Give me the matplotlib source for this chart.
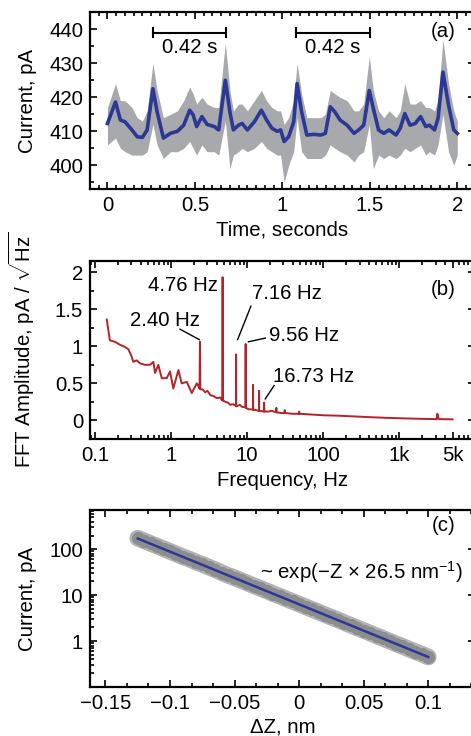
import numpy as np
import matplotlib.pyplot as plt
from matplotlib.ticker import MultipleLocator, AutoMinorLocator, LogLocator, FixedLocator, NullFormatter

plt.rcParams['font.family'] = ['Liberation Sans', 'DejaVu Sans']
plt.rcParams['mathtext.fontset'] = 'custom'
plt.rcParams['mathtext.rm'] = 'Liberation Sans'
plt.rcParams['mathtext.it'] = 'Liberation Sans:italic'
plt.rcParams['font.size'] = 14.7

# ---- panel (a): current trace ----
t_a = [0.00, 0.046, 0.074, 0.10, 0.14, 0.17, 0.20, 0.227, 0.26, 0.284, 0.32, 0.36, 0.40, 0.436,
       0.47, 0.49, 0.51, 0.54, 0.57, 0.61, 0.636, 0.674, 0.70, 0.72, 0.75, 0.77, 0.80, 0.84,
       0.88, 0.91, 0.94, 0.97, 0.99, 1.01, 1.036, 1.065, 1.084, 1.11, 1.14, 1.18, 1.22, 1.246,
       1.274, 1.30, 1.33, 1.37, 1.41, 1.436, 1.465, 1.497, 1.52, 1.55, 1.58, 1.61, 1.65, 1.674,
       1.70, 1.73, 1.76, 1.79, 1.82, 1.84, 1.87, 1.89, 1.918, 1.95, 1.98, 2.00]
smooth_a = [412.3, 418.6, 413.3, 412.8, 410.4, 408.4, 408.2, 410.4, 422.5, 415.7, 408.0, 409.4,
            410.0, 411.8, 416.2, 414.8, 411.4, 414.3, 412.0, 411.4, 410.4, 425.0, 415.7, 410.4,
            411.8, 412.3, 410.4, 412.8, 416.2, 413.3, 410.9, 410.0, 410.4, 407.0, 408.4, 412.8,
            424.0, 415.7, 408.9, 409.1, 408.9, 409.4, 417.2, 415.7, 413.3, 411.8, 409.4, 410.4,
            411.8, 422.0, 416.7, 410.4, 409.4, 410.4, 408.9, 410.9, 415.2, 411.8, 412.3, 414.3,
            411.4, 411.8, 410.4, 413.8, 427.4, 417.7, 410.4, 409.4]
raw_hi = [417, 424, 419, 419, 417, 414, 413, 416, 430, 422, 414, 415, 416, 419, 423, 421, 418,
          420, 418, 417, 417, 436, 422, 416, 418, 418, 416, 419, 422, 419, 417, 416, 416, 412,
          414, 419, 430, 421, 414, 414, 414, 415, 422, 421, 420, 419, 416, 416, 418, 432, 422,
          416, 414, 416, 414, 416, 424, 418, 418, 419, 417, 417, 416, 419, 437, 424, 416, 413]
raw_lo = [406, 408, 405, 404, 403, 403, 403, 404, 412, 406, 402, 404, 404, 405, 407, 405, 403,
          406, 404, 404, 403, 413, 399, 403, 404, 405, 404, 405, 407, 405, 404, 403, 403, 395,
          400, 404, 414, 404, 402, 402, 402, 403, 406, 405, 404, 403, 401, 403, 404, 412, 399,
          403, 402, 403, 402, 403, 405, 404, 405, 406, 403, 404, 403, 406, 415, 404, 400, 403]
periods = [(0.26, 0.68), (1.08, 1.50)]

# ---- panel (b): FFT spectrum ----
freq_b = [0.143, 0.157, 0.183, 0.213, 0.248, 0.275, 0.304, 0.319, 0.354, 0.391, 0.455, 0.53,
          0.586, 0.617, 0.68, 0.755, 0.878, 0.97, 1.07, 1.25, 1.38, 1.61, 1.87, 2.18, 2.33,
          2.37, 2.40, 2.43, 2.6, 2.8, 3.0, 3.3, 3.6, 4.0, 4.4, 4.7, 4.73, 4.76, 4.79, 5.2, 5.6,
          6.0, 6.5, 7.1, 7.13, 7.16, 7.19, 8.0, 8.7, 9.5, 9.53, 9.56, 9.59, 10.5, 11.9, 11.95,
          12.0, 13.0, 14.3, 14.35, 14.4, 16.6, 16.73, 16.85, 19, 21, 24, 24.2, 24.4, 28, 31,
          31.2, 31.4, 40, 48, 48.3, 48.6, 70, 100, 150, 250, 400, 700, 1000, 1500, 2000, 3000,
          3100, 3150, 3200, 3300, 4000, 5000]
amp_b = [1.36, 1.08, 1.06, 1.02, 0.99, 0.96, 0.86, 0.79, 0.81, 0.77, 0.75, 0.75,
         0.79, 0.64, 0.75, 0.57, 0.57, 0.66, 0.43, 0.68, 0.50, 0.52, 0.37, 0.50, 0.45,
         0.43, 1.06, 0.42, 0.42, 0.38, 0.40, 0.34, 0.33, 0.30, 0.31, 0.27, 0.27, 1.93, 0.27, 0.25, 0.24,
         0.21, 0.22, 0.20, 0.20, 0.89, 0.19, 0.21, 0.18, 0.18, 0.18, 1.03, 0.17, 0.15, 0.15, 0.48,
         0.14, 0.14, 0.13, 0.40, 0.13, 0.12, 0.24, 0.12, 0.12, 0.13, 0.11, 0.17, 0.11, 0.10, 0.10,
         0.14, 0.10, 0.09, 0.09, 0.12, 0.09, 0.08, 0.07, 0.065, 0.055, 0.045, 0.035, 0.03, 0.025, 0.022, 0.018,
         0.018, 0.09, 0.08, 0.018, 0.017, 0.015]
# peak labels: text, anchor (f, amp), alignment, leader start, leader end
peak_labels = [("2.40 Hz", (0.289, 1.35), 'left', (1.31, 1.23), (2.35, 1.09)),
               ("4.76 Hz", (4.2, 1.82), 'right', None, None),
               ("7.16 Hz", (11.5, 1.71), 'left', (11.2, 1.54), (7.5, 1.09)),
               ("9.56 Hz", (19.1, 1.15), 'left', (10.4, 1.06), (17.3, 1.11)),
               ("16.73 Hz", (22.2, 0.59), 'left', (17.3, 0.29), (22.6, 0.47))]

# ---- panel (c): current vs distance ----
dz_c = [-0.125, -0.12, -0.115, -0.11, -0.105, -0.10, -0.095, -0.09, -0.085, -0.08, -0.075,
        -0.07, -0.065, -0.06, -0.055, -0.05, -0.045, -0.04, -0.035, -0.03, -0.025, -0.02,
        -0.015, -0.01, -0.005, 0.0, 0.005, 0.01, 0.015, 0.02, 0.025, 0.03, 0.035, 0.04,
        0.045, 0.05, 0.055, 0.06, 0.065, 0.07, 0.075, 0.08, 0.085, 0.09, 0.095, 0.10]
cur_c = [175, 153, 134, 118, 103, 90, 79, 69, 61, 53, 47, 41, 36, 31, 27, 24, 21, 18.4, 16.1,
         14.1, 12.4, 10.8, 9.5, 8.3, 7.3, 6.4, 5.6, 4.9, 4.3, 3.76, 3.3, 2.9, 2.53, 2.21, 1.94,
         1.70, 1.49, 1.30, 1.14, 1.0, 0.875, 0.77, 0.67, 0.59, 0.52, 0.45]
fit_z = [-0.125, 0.10]
fit_i = [172, 0.45]

gray = '#a7a9ac'
blue = '#2b3896'
red = '#b5232a'

fig = plt.figure(figsize=(4.71, 7.36), dpi=100)
ax_a = fig.add_axes([0.191, 0.743, 0.817, 0.2405])
ax_b = fig.add_axes([0.191, 0.4035, 0.817, 0.242])
ax_c = fig.add_axes([0.191, 0.0666, 0.817, 0.2405])


def style(ax):
    for s in ax.spines.values():
        s.set_linewidth(1.6)
    ax.tick_params(which='both', direction='in', top=True, right=True, width=1.2, pad=5)
    ax.tick_params(which='major', length=5)
    ax.tick_params(which='minor', length=3)


# (a)
ax_a.fill_between(t_a, raw_lo, raw_hi, color=gray, lw=0)
ax_a.plot(t_a, smooth_a, color=blue, lw=2.6)
for t0, t1 in periods:
    ax_a.plot([t0, t1], [439, 439], color='black', lw=1.5)
    ax_a.plot([t0, t0], [437.6, 440.4], color='black', lw=1.5)
    ax_a.plot([t1, t1], [437.6, 440.4], color='black', lw=1.5)
    ax_a.text((t0 + t1) / 2, 434.6, '%.2f s' % (t1 - t0), ha='center', va='center')
ax_a.set_xlim(-0.1, 2.1)
ax_a.set_ylim(393, 445)
ax_a.xaxis.set_major_locator(MultipleLocator(0.5))
ax_a.xaxis.set_minor_locator(MultipleLocator(0.05))
ax_a.yaxis.set_major_locator(MultipleLocator(10))
ax_a.yaxis.set_minor_locator(MultipleLocator(5))
ax_a.set_xticks([0, 0.5, 1, 1.5, 2], ['0', '0.5', '1', '1.5', '2'])
ax_a.set_xlabel('Time, seconds')
ax_a.set_ylabel('Current, pA')
ax_a.xaxis.set_label_coords(0.5, -0.175)
ax_a.yaxis.set_label_coords(-0.138, 0.5)
ax_a.text(0.95, 0.89, '(a)', transform=ax_a.transAxes, ha='right', va='center')
style(ax_a)

# (b)
ax_b.plot(freq_b, amp_b, color=red, lw=1.4)
ax_b.set_xscale('log')
ax_b.set_xlim(0.086, 9800)
ax_b.set_ylim(-0.25, 2.15)
ax_b.set_xticks([0.1, 1, 10, 100, 1000, 5000], ['0.1', '1', '10', '100', '1k', '5k'])
ax_b.xaxis.set_minor_locator(LogLocator(base=10, subs=np.arange(2, 10)))
ax_b.xaxis.set_minor_formatter(NullFormatter())
ax_b.yaxis.set_major_locator(FixedLocator([0, 0.5, 1, 1.5, 2]))
ax_b.set_yticklabels(['0', '0.5', '1', '1.5', '2'])
ax_b.yaxis.set_minor_locator(MultipleLocator(0.25))
for label, pos, ha, l0, l1 in peak_labels:
    ax_b.text(pos[0], pos[1], label, ha=ha, va='center')
    if l0 is not None:
        ax_b.plot([l0[0], l1[0]], [l0[1], l1[1]], color='black', lw=1.0)
ax_b.set_xlabel('Frequency, Hz')
ax_b.set_ylabel(r'FFT Amplitude, pA / $\sqrt{\mathrm{Hz}}$')
ax_b.xaxis.set_label_coords(0.5, -0.18)
ax_b.yaxis.set_label_coords(-0.138, 0.5)
ax_b.text(0.95, 0.837, '(b)', transform=ax_b.transAxes, ha='right', va='center')
style(ax_b)

# (c) - dense data points drawn as a band: light rim below, darker circles on top
ax_c.plot(dz_c, cur_c, '-', color='#b2b3b5', lw=12, solid_capstyle='round')
ax_c.plot(dz_c, cur_c, 'o', ms=9.5, mfc='#8c8d8f', mec='#8c8d8f', mew=0)
ax_c.plot(fit_z, fit_i, color=blue, lw=1.8)
ax_c.set_yscale('log')
ax_c.set_xlim(-0.162, 0.136)
ax_c.set_ylim(0.1, 720)
ax_c.set_xticks([-0.15, -0.1, -0.05, 0, 0.05, 0.1],
                ['\u22120.15', '\u22120.1', '\u22120.05', '0', '0.05', '0.1'])
ax_c.xaxis.set_minor_locator(AutoMinorLocator(3))
ax_c.set_yticks([1, 10, 100], ['1', '10', '100'])
ax_c.yaxis.set_minor_locator(LogLocator(base=10, subs=np.arange(2, 10)))
ax_c.yaxis.set_minor_formatter(NullFormatter())
ax_c.text(0.968, 0.651, '~ exp(\u2212Z \u00d7 26.5 nm$^{-1}$)', transform=ax_c.transAxes,
          ha='right', va='center')
ax_c.set_xlabel('\u0394Z, nm')
ax_c.set_ylabel('Current, pA')
ax_c.xaxis.set_label_coords(0.5, -0.17)
ax_c.yaxis.set_label_coords(-0.138, 0.5)
ax_c.text(0.95, 0.915, '(c)', transform=ax_c.transAxes, ha='right', va='center')
style(ax_c)

fig.savefig('out.png', dpi=100)
